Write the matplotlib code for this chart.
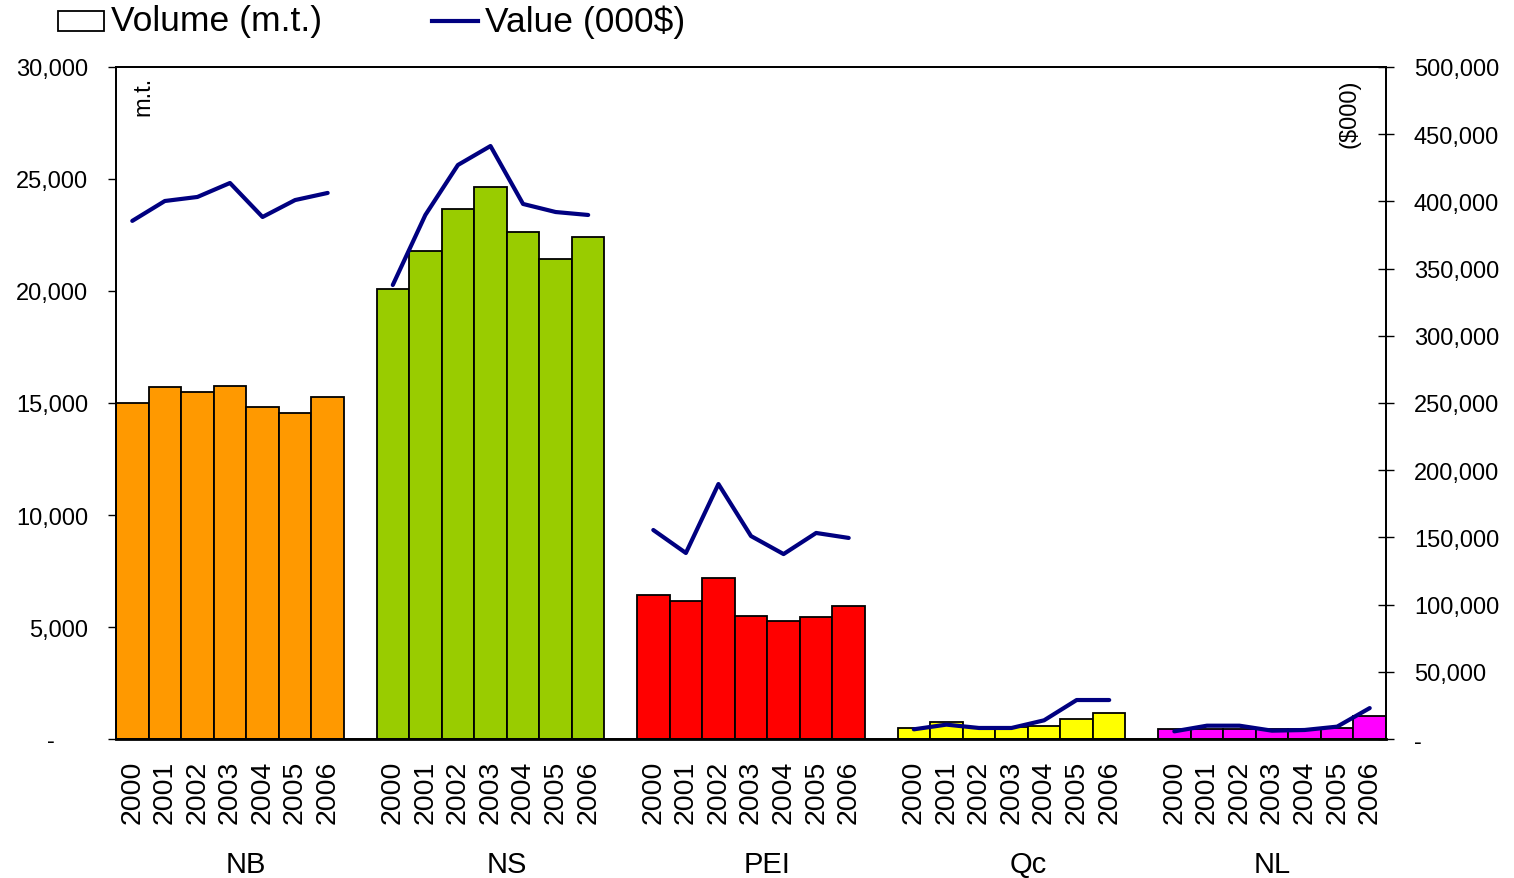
import matplotlib
matplotlib.use("Agg")
import matplotlib.pyplot as plt
from matplotlib.patches import Rectangle
from matplotlib.lines import Line2D
from matplotlib.ticker import FuncFormatter
import matplotlib.transforms as mtransforms

plt.rcParams['font.family'] = ['Liberation Sans', 'DejaVu Sans']

provinces = ["NB", "NS", "PEI", "Qc", "NL"]
years = ["2000", "2001", "2002", "2003", "2004", "2005", "2006"]
colors = ["#FF9900", "#99CC00", "#FF0000", "#FFFF00", "#FF00FF"]

volume = {
    "NB":  [15000, 15700, 15500, 15750, 14820, 14550, 15270],
    "NS":  [20100, 21800, 23680, 24650, 22640, 21450, 22420],
    "PEI": [6430, 6170, 7200, 5500, 5280, 5460, 5950],
    "Qc":  [490, 745, 520, 520, 580, 910, 1175],
    "NL":  [430, 445, 450, 440, 440, 505, 1040],
}
value = {
    "NB":  [385500, 400300, 403300, 413700, 388400, 401000, 406300],
    "NS":  [337800, 389900, 427100, 441200, 398100, 392100, 389900],
    "PEI": [155500, 138400, 189700, 151000, 137600, 153300, 149600],
    "Qc":  [7200, 10700, 8200, 8200, 13900, 29000, 29000],
    "NL":  [5700, 9900, 9900, 6200, 6700, 9200, 23000],
}

fig = plt.figure(figsize=(15.14, 8.79), dpi=100)
ax = fig.add_axes([116/1514, 1-740/879, (1386-116)/1514, (740-68)/879])
ax2 = ax.twinx()

n = len(years)
xticks, xlabels = [], []
for g, p in enumerate(provinces):
    xs = [g*(n+1) + j + 0.5 for j in range(n)]
    ax.bar(xs, volume[p], width=1.0, color=colors[g], edgecolor="black", linewidth=1.3, zorder=2)
    ax2.plot(xs, value[p], color="#000080", linewidth=3, solid_capstyle="round", zorder=3)
    xticks += xs
    xlabels += years

nslots = len(provinces)*(n+1) - 1
ax.set_xlim(0, nslots)
ax2.set_xlim(0, nslots)
ax.set_ylim(0, 30000)
ax2.set_ylim(0, 500000)

def fmt_left(v, pos):
    return "-     " if v == 0 else f"{int(v):,}"

def fmt_right(v, pos):
    return "-" if v == 0 else f"{int(v):,}"

ax.set_yticks(range(0, 30001, 5000))
ax.yaxis.set_major_formatter(FuncFormatter(fmt_left))
ax2.set_yticks(range(0, 500001, 50000))
ax2.yaxis.set_major_formatter(FuncFormatter(fmt_right))

ax.set_xticks(xticks)
ax.set_xticklabels(xlabels, rotation=90, fontsize=20.5)
ax.tick_params(axis='x', length=0, pad=15)
ax.tick_params(axis='y', direction='out', length=6, width=1, labelsize=17, pad=14)
ax2.tick_params(axis='y', direction='inout', length=12, width=1, labelsize=17, pad=14)

for a in (ax, ax2):
    for s in a.spines.values():
        s.set_linewidth(1.3)
        s.set_color("black")
ax.spines['bottom'].set_linewidth(2)

trans = mtransforms.blended_transform_factory(ax.transData, fig.transFigure)
for g, p in enumerate(provinces):
    cx = g*(n+1) + (n+1)/2 if g < len(provinces)-1 else g*(n+1) + n/2
    ax.text(cx, 1-865/879, p, transform=trans, ha="center", va="center", fontsize=21)

ax.text(143/1514, 1-77/879, "m.t.", transform=fig.transFigure, rotation=90, ha="center", va="top", fontsize=17)
ax.text(1350/1514, 1-79/879, "($000)", transform=fig.transFigure, rotation=90, ha="center", va="top", fontsize=17)

# legend
fig.patches.append(Rectangle((58/1514, 1-32/879), 46/1514, 20/879, transform=fig.transFigure,
                             facecolor="white", edgecolor="black", linewidth=1.3))
fig.text(111/1514, 1-22/879, "Volume (m.t.)", ha="left", va="center", fontsize=25.5)
fig.lines.append(Line2D([432/1514, 478/1514], [1-22/879, 1-22/879], transform=fig.transFigure,
                        color="#000080", linewidth=3))
fig.text(485/1514, 1-22/879, "Value (000$)", ha="left", va="center", fontsize=25.5)

fig.savefig("out.png", dpi=100)
